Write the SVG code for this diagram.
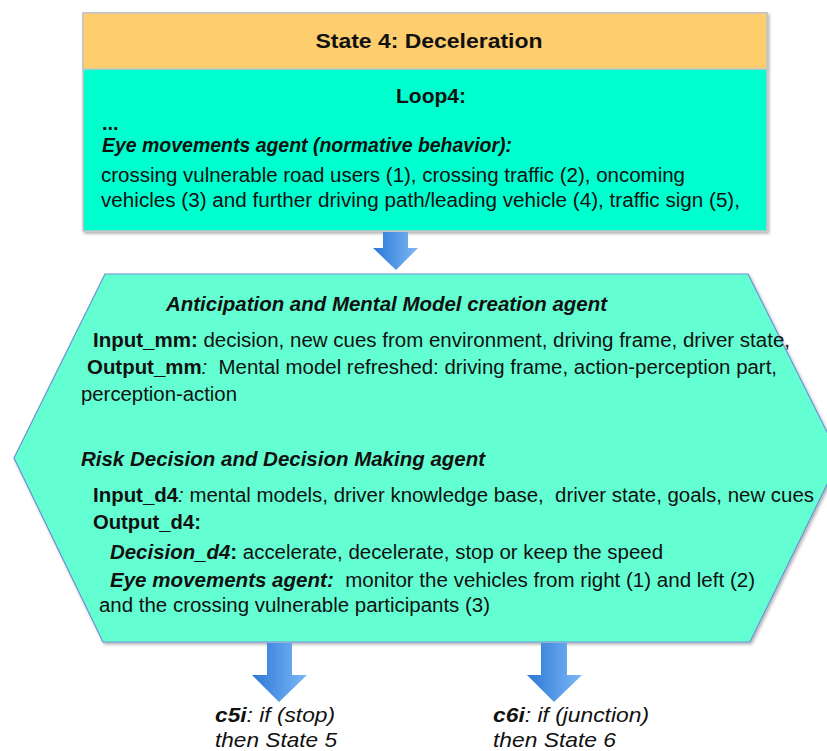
<svg xmlns="http://www.w3.org/2000/svg" width="827" height="751" viewBox="0 0 827 751">
  <style>
    text { font-family: "Liberation Sans", Arial, sans-serif; fill: #111; white-space: pre; }
    .t { font-size: 20px; }
    .b { font-weight: bold; }
    .i { font-style: italic; }
    .bi { font-weight: bold; font-style: italic; }
  </style>
  <defs>
    <linearGradient id="arrowFill" x1="0" y1="0" x2="1" y2="0">
      <stop offset="0" stop-color="#2c78d6"/>
      <stop offset="1" stop-color="#7cb8f6"/>
    </linearGradient>
    <filter id="shadow" x="-5%" y="-5%" width="110%" height="115%">
      <feDropShadow dx="1.5" dy="2" stdDeviation="1.5" flood-color="#000" flood-opacity="0.3"/>
    </filter>
  </defs>

  <!-- State box -->
  <g id="state4">
    <g filter="url(#shadow)">
      <rect x="83" y="13" width="684" height="218" fill="#00ffcf" stroke="#c4c4c4" stroke-width="1.5"/>
      <rect x="83" y="13" width="684" height="56" fill="#fdcd6e" stroke="#c4c4c4" stroke-width="1.5"/>
    </g>
    <text x="429" y="48" text-anchor="middle" class="b" font-size="21" textLength="227" lengthAdjust="spacingAndGlyphs">State 4: Deceleration</text>
    <text x="431" y="103" text-anchor="middle" class="t b" textLength="70" lengthAdjust="spacingAndGlyphs">Loop4:</text>
    <text x="102" y="130" class="t b">...</text>
    <text x="102" y="152" class="t bi" textLength="410" lengthAdjust="spacingAndGlyphs">Eye movements agent (normative behavior):</text>
    <text x="101" y="182" class="t" textLength="584" lengthAdjust="spacingAndGlyphs">crossing vulnerable road users (1), crossing traffic (2), oncoming</text>
    <text x="101" y="207" class="t" textLength="639" lengthAdjust="spacingAndGlyphs">vehicles (3) and further driving path/leading vehicle (4), traffic sign (5),</text>
  </g>

  <!-- Agents hexagon -->
  <g id="agents">
    <polygon points="105,274 748,274 840,458 750,642 103,642 14,458" fill="#63ffd2" stroke="#6d8fd4" stroke-width="1.2" filter="url(#shadow)"/>
    <text x="166" y="311" class="t bi" textLength="441" lengthAdjust="spacingAndGlyphs">Anticipation and Mental Model creation agent</text>
    <text x="93" y="347" class="t" textLength="697" lengthAdjust="spacingAndGlyphs"><tspan class="b">Input_mm:</tspan> decision, new cues from environment, driving frame, driver state,</text>
    <text x="87" y="374" class="t" textLength="690" lengthAdjust="spacingAndGlyphs"><tspan class="b">Output_mm</tspan><tspan class="i">:</tspan>  Mental model refreshed: driving frame, action-perception part,</text>
    <text x="81" y="401" class="t" textLength="156" lengthAdjust="spacingAndGlyphs">perception-action</text>
    <text x="81" y="466" class="t bi" textLength="404" lengthAdjust="spacingAndGlyphs">Risk Decision and Decision Making agent</text>
    <text x="93" y="502" class="t" textLength="721" lengthAdjust="spacingAndGlyphs"><tspan class="b">Input_d4</tspan><tspan class="i">:</tspan> mental models, driver knowledge base,  driver state, goals, new cues</text>
    <text x="93" y="529" class="t b" textLength="108" lengthAdjust="spacingAndGlyphs">Output_d4:</text>
    <text x="110" y="559" class="t" textLength="553" lengthAdjust="spacingAndGlyphs"><tspan class="bi">Decision_d4</tspan><tspan class="b">:</tspan> accelerate, decelerate, stop or keep the speed</text>
    <text x="110" y="587" class="t" textLength="645" lengthAdjust="spacingAndGlyphs"><tspan class="bi">Eye movements agent:</tspan>  monitor the vehicles from right (1) and left (2)</text>
    <text x="99" y="612" class="t" textLength="391" lengthAdjust="spacingAndGlyphs">and the crossing vulnerable participants (3)</text>
  </g>

  <!-- Block arrows between stages -->
  <g id="connectors" fill="url(#arrowFill)">
    <polygon points="383,232 408,232 408,248 418,248 396,270 373,248 383,248"/>
    <polygon points="267,643 292,643 292,675 307,675 279,702 252,675 267,675"/>
    <polygon points="541,643 567,643 567,675 582,675 554,702 527,675 541,675"/>
  </g>

  <!-- Transition conditions -->
  <g id="c5i">
    <text x="215" y="722" font-size="21" class="i" textLength="120" lengthAdjust="spacingAndGlyphs"><tspan class="bi">c5i</tspan>: if (stop)</text>
    <text x="215" y="747" font-size="21" class="i" textLength="122" lengthAdjust="spacingAndGlyphs">then State 5</text>
  </g>
  <g id="c6i">
    <text x="493" y="722" font-size="21" class="i" textLength="156" lengthAdjust="spacingAndGlyphs"><tspan class="bi">c6i</tspan>: if (junction)</text>
    <text x="493" y="747" font-size="21" class="i" textLength="123" lengthAdjust="spacingAndGlyphs">then State 6</text>
  </g>
</svg>
